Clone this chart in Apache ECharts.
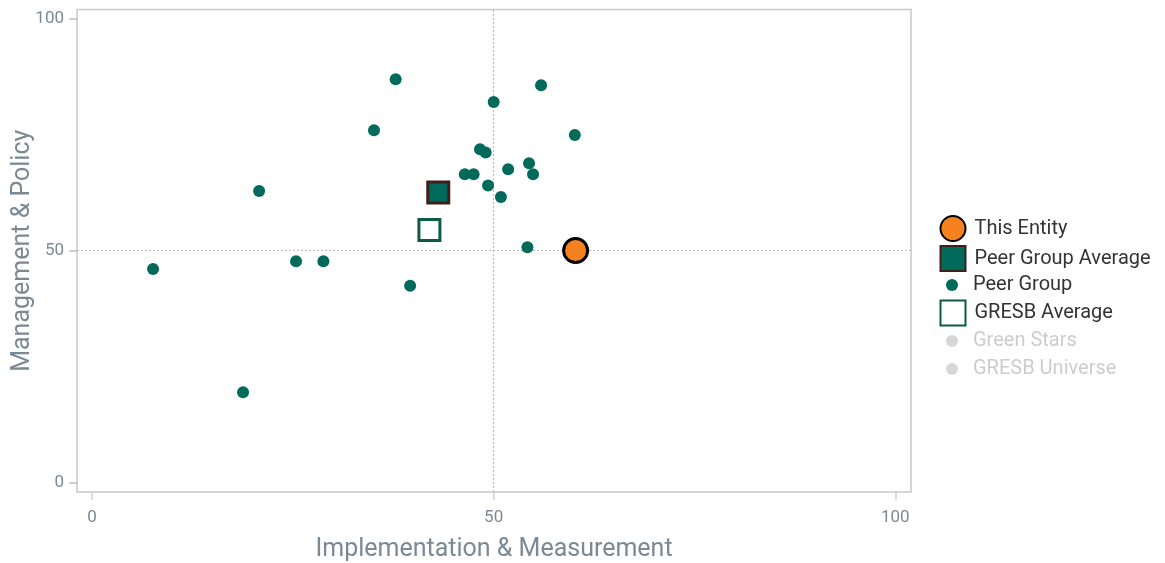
<!DOCTYPE html>
<html>
<head>
<meta charset="utf-8">
<script src="https://cdn.jsdelivr.net/npm/echarts@6/dist/echarts.min.js"></script>
<style>
html,body{margin:0;padding:0;background:#fff;}
#chart{width:1165px;height:563px;}
</style>
</head>
<body>
<div id="chart"></div>
<script>
// ---- data ----
const peerX = [7.6, 18.8, 20.8, 25.4, 28.8, 35.1, 37.8, 39.6, 46.4, 47.5, 48.3, 49.0, 49.3, 50.0, 50.9, 51.8, 54.2, 54.4, 54.9, 55.9, 60.1];
const peerY = [46.0, 19.5, 62.8, 47.7, 47.7, 75.9, 86.9, 42.4, 66.4, 66.4, 71.8, 71.1, 64.0, 82.0, 61.5, 67.5, 50.7, 68.8, 66.4, 85.6, 74.9];
const thisEntity = [60.2, 50.0];
const peerAverage = [43.1, 62.5];
const gresbAverage = [42.0, 54.4];
const tickValues = [0, 50, 100];
const xTitle = 'Implementation & Measurement';
const yTitle = 'Management & Policy';
const refX = 50, refY = 50;

const FONT = 'Roboto';
const peerData = peerX.map((x, i) => [x, peerY[i]]);

const chart = echarts.init(document.getElementById('chart'));
const legendText = {fontFamily: FONT, fontSize: 20, color: '#333', lineHeight: 22};
chart.setOption({
  animation: false,
  grid: {left: 77, top: 9.5, width: 834, height: 482.5, show: true, borderColor: '#c8c8c8', borderWidth: 1.5,
         backgroundColor: 'transparent', outerBoundsMode: 'none', containLabel: false},
  xAxis: {
    type: 'value', min: -1.87, max: 101.95,
    name: xTitle, nameLocation: 'middle', nameGap: 45,
    nameTextStyle: {fontFamily: FONT, fontSize: 25, color: '#7b8995'},
    axisLine: {show: false, onZero: false},
    axisTick: {show: true, inside: false, customValues: tickValues, length: 8, lineStyle: {color: '#c9d5e0', width: 1.5}},
    axisLabel: {customValues: tickValues, fontFamily: FONT, fontSize: 17, color: '#7b8995', margin: 17},
    splitLine: {show: false}
  },
  yAxis: {
    type: 'value', min: -2.0, max: 101.9,
    name: yTitle, nameLocation: 'middle', nameGap: 42, nameMoveOverlap: false,
    nameTextStyle: {fontFamily: FONT, fontSize: 25, color: '#7b8995'},
    axisLine: {show: false, onZero: false},
    axisTick: {show: true, inside: false, customValues: tickValues, length: 8, lineStyle: {color: '#c0c0c0', width: 1.5}},
    axisLabel: {customValues: tickValues, fontFamily: FONT, fontSize: 17, color: '#7b8995', margin: 13},
    splitLine: {show: false}
  },
  legend: [
    {data: ['This Entity', 'Peer Group Average'], orient: 'vertical', left: 939.5, top: 215, padding: 0, itemGap: 3,
     itemWidth: 25, itemHeight: 25, textStyle: Object.assign({padding: [0,0,0,4]}, legendText)},
    {data: ['Peer Group'], orient: 'vertical', left: 946, top: 274, padding: 0,
     itemWidth: 12, itemHeight: 12, textStyle: Object.assign({padding: [0,0,0,10]}, legendText)},
    {data: ['GRESB Average'], orient: 'vertical', left: 939.5, top: 299.5, padding: 0,
     itemWidth: 25, itemHeight: 25, textStyle: Object.assign({padding: [0,0,0,4]}, legendText)},
    {data: ['Green Stars', 'GRESB Universe'], orient: 'vertical', left: 946, top: 330, padding: 0, itemGap: 6,
     itemWidth: 12, itemHeight: 12, inactiveColor: '#cccccc', inactiveBorderColor: '#cccccc',
     selected: {'Green Stars': false, 'GRESB Universe': false},
     textStyle: Object.assign({padding: [0,0,0,10]}, legendText)}
  ],
  series: [
    {name: 'Green Stars', type: 'scatter', data: [], symbol: 'circle', symbolSize: 12, itemStyle: {color: '#cccccc'}, z: 1},
    {name: 'GRESB Universe', type: 'scatter', data: [], symbol: 'circle', symbolSize: 12, itemStyle: {color: '#cccccc'}, z: 1},
    {name: 'Reference lines', type: 'scatter', data: [], z: 1, silent: true,
     markLine: {silent: true, symbol: 'none', label: {show: false}, z: 1,
       lineStyle: {color: '#b8b8b8', type: [2, 2], width: 1},
       data: [{xAxis: refX}, {yAxis: refY}]}},
    {name: 'Peer Group', type: 'scatter', data: peerData, symbol: 'circle', symbolSize: 12,
     itemStyle: {color: '#016a5a', opacity: 1}, z: 3},
    {name: 'GRESB Average', type: 'scatter', data: [gresbAverage], symbol: 'rect', symbolSize: 21,
     itemStyle: {color: '#ffffff', borderColor: '#0d5a45', borderWidth: 3, opacity: 1}, z: 4},
    {name: 'Peer Group Average', type: 'scatter', data: [peerAverage], symbol: 'rect', symbolSize: 21,
     itemStyle: {color: '#016a5a', borderColor: '#3f1f1a', borderWidth: 3, opacity: 1}, z: 5},
    {name: 'This Entity', type: 'scatter', data: [thisEntity], symbol: 'circle', symbolSize: 24,
     itemStyle: {color: '#f5821f', borderColor: '#000000', borderWidth: 3, opacity: 1}, z: 6}
  ]
});
</script>
</body>
</html>
